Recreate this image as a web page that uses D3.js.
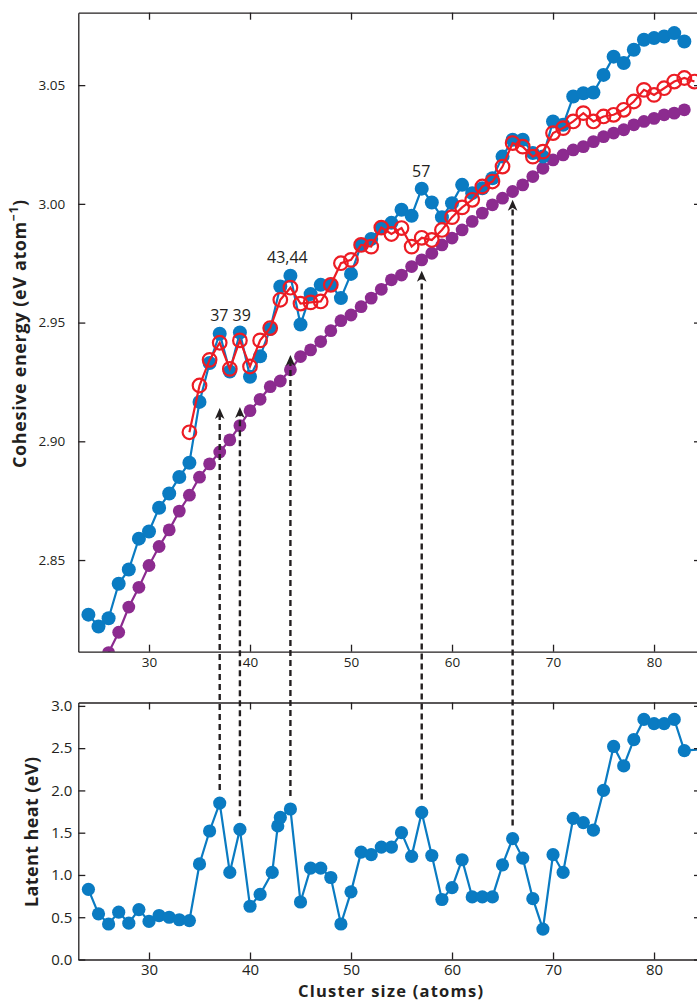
<!DOCTYPE html>
<html>
<head>
<meta charset="utf-8">
<script src="https://cdn.jsdelivr.net/npm/d3@7"></script>
<style>
  body { margin: 0; background: #fff; }
  svg { display: block; }
  .axis text { font-family: 'Open Sans', sans-serif; fill: #231f20; }
  .axis path, .axis line { stroke: #231f20; stroke-width: 1.3; }
  .title { font-family: 'Open Sans', sans-serif; font-weight: bold; fill: #231f20; }
</style>
</head>
<body>
<script>
// upper panel: cohesive energy (eV/atom) per cluster size
const blueSizes = d3.range(24, 84)
const blueEnergy = [
  2.827, 2.822, 2.8255, 2.840, 2.846, 2.859, 2.862, 2.872, 2.878, 2.885,
  2.891, 2.9166, 2.933, 2.9453, 2.9294, 2.9458, 2.9272, 2.9358, 2.9473, 2.9652,
  2.9697, 2.9492, 2.962, 2.9659, 2.966, 2.9603, 2.9705, 2.9827, 2.9852, 2.9899,
  2.992, 2.9975, 2.995, 3.0064, 3.0006, 2.9944, 3.0003, 3.008, 3.0045, 3.0066,
  3.0108, 3.0199, 3.027, 3.027, 3.0214, 3.0199, 3.0347, 3.0333, 3.0452, 3.0466,
  3.0469, 3.0543, 3.062, 3.0593, 3.0649, 3.0691, 3.0698, 3.0705, 3.0719, 3.0684
]

const redSizes = d3.range(34, 85)
const redEnergy = [
  2.9038, 2.9235, 2.9343, 2.9415, 2.9305, 2.9425, 2.9315, 2.9425, 2.9477, 2.9596,
  2.9647, 2.958, 2.9585, 2.9589, 2.9659, 2.975, 2.9764, 2.9827, 2.982, 2.990,
  2.9873, 2.9898, 2.982, 2.9857, 2.9848, 2.989, 2.9944, 2.9985, 3.0017, 3.0073,
  3.0094, 3.0157, 3.0256, 3.0241, 3.0199, 3.022, 3.0298, 3.0319, 3.0347, 3.0382,
  3.0347, 3.0368, 3.0375, 3.0396, 3.0431, 3.048, 3.0459, 3.0487, 3.0515, 3.053,
  3.0515
]

const purpleSizes = d3.range(26, 84)
const purpleEnergy = [
  2.811, 2.8196, 2.8302, 2.8385, 2.8477, 2.8557, 2.8627, 2.8706, 2.8773, 2.8849,
  2.8905, 2.8955, 2.9006, 2.9066, 2.9129, 2.9177, 2.923, 2.9254, 2.9301, 2.9357,
  2.9385, 2.942, 2.9466, 2.9508, 2.9532, 2.9567, 2.9603, 2.964, 2.968, 2.970,
  2.9736, 2.9764, 2.9792, 2.9827, 2.9856, 2.989, 2.9926, 2.9961, 2.9996, 3.0024,
  3.0052, 3.008, 3.0115, 3.015, 3.0185, 3.0206, 3.0227, 3.0241, 3.0262, 3.0283,
  3.0298, 3.0312, 3.0333, 3.0347, 3.036, 3.0375, 3.0382, 3.0396
]

// lower panel: latent heat (eV)
const heatSizes = [
  24, 25, 26, 27, 28, 29, 30, 31, 32, 33, 34, 35, 36, 37, 38, 39, 40, 41,
  42.2, 42.75, 43, 44, 45, 46, 47, 48, 49, 50, 51, 52, 53, 54, 55, 56, 57, 58,
  59, 60, 61, 62, 63, 64, 65, 66, 67, 68, 69, 70, 71, 72, 73, 74, 75, 76, 77,
  78, 79, 80, 81, 82, 83, 85
]
const heatValues = [
  0.83, 0.54, 0.42, 0.56, 0.43, 0.59, 0.45, 0.52, 0.50, 0.47, 0.46, 1.13, 1.52, 1.85, 1.03, 1.54, 0.63, 0.77,
  1.03, 1.58, 1.68, 1.78, 0.68, 1.08, 1.08, 0.97, 0.42, 0.80, 1.27, 1.24, 1.33, 1.33, 1.50, 1.22, 1.74, 1.23,
  0.71, 0.85, 1.18, 0.74, 0.74, 0.74, 1.12, 1.43, 1.20, 0.72, 0.36, 1.24, 1.03, 1.67, 1.62, 1.53, 2.00, 2.52, 2.29,
  2.60, 2.84, 2.79, 2.79, 2.84, 2.47, 2.49
]

// dashed arrows from latent heat peaks up to the energy curves
const peakSizes = [37, 39, 44, 57, 66]
const peakArrowTips = [2.914, 2.9145, 2.9364, 2.9718, 3.0017]

const labelTexts = ['37 39', '43,44', '57']
const labelSizes = [38.07, 43.7, 56.95]
const labelEnergy = [2.9508, 2.9753, 3.0111]

const xTicks = [30, 40, 50, 60, 70, 80]
const energyTicks = [2.85, 2.90, 2.95, 3.00, 3.05]
const heatTicks = [0, 0.5, 1, 1.5, 2, 2.5, 3]

const width = 697
const height = 1002
const blue = '#0a7bc2'
const purple = '#8c2b8f'
const red = '#ec1c24'

const svg = d3.select('body')
  .append('svg')
  .attr('width', width)
  .attr('height', height)

const left = 78.3
const right = 701
const x = d3.scaleLinear().domain([23, 84.65]).range([left, right])
const yTop = d3.scaleLinear().domain([2.8114, 3.0805]).range([651.7, 12.7])
const yHeat = d3.scaleLinear().domain([0, 3.04]).range([959.5, 702.5])

svg.append('clipPath')
  .attr('id', 'clipTop')
  .append('rect')
  .attr('x', left)
  .attr('y', 12.7)
  .attr('width', right - left)
  .attr('height', 639)

const topPanel = svg.append('g').attr('clip-path', 'url(#clipTop)')

const drawSeries = (g, sizes, values, y, color, r, open) => {
  const pts = sizes.map((s, i) => [s, values[i]])
  g.append('path')
    .datum(pts)
    .attr('fill', 'none')
    .attr('stroke', color)
    .attr('stroke-width', 2.2)
    .attr('d', d3.line().x(d => x(d[0])).y(d => y(d[1])))
  g.append('g')
    .selectAll('circle')
    .data(pts)
    .enter()
    .append('circle')
    .attr('cx', d => x(d[0]))
    .attr('cy', d => y(d[1]))
    .attr('r', r)
    .attr('fill', open ? 'none' : color)
    .attr('stroke', open ? color : 'none')
    .attr('stroke-width', open ? 2.2 : 0)
}

drawSeries(topPanel, purpleSizes, purpleEnergy, yTop, purple, 6.4, false)
drawSeries(topPanel, blueSizes, blueEnergy, yTop, blue, 7, false)
drawSeries(topPanel, redSizes, redEnergy, yTop, red, 6.8, true)

drawSeries(svg.append('g'), heatSizes, heatValues, yHeat, blue, 6.6, false)

// peak labels
svg.append('g')
  .selectAll('text')
  .data(labelTexts)
  .enter()
  .append('text')
  .attr('x', (d, i) => x(labelSizes[i]))
  .attr('y', (d, i) => yTop(labelEnergy[i]))
  .attr('text-anchor', 'middle')
  .style('font-family', "'Open Sans', sans-serif")
  .style('font-size', '16px')
  .style('fill', '#231f20')
  .text(d => d)

// axes: frame with inward ticks
const drawFrame = (y, yTicksVals, fmt, fontSize, padY, padX) => {
  const y0 = y.range()[0]
  const y1 = y.range()[1]
  svg.append('g')
    .attr('class', 'axis')
    .attr('transform', `translate(0,${y0})`)
    .call(d3.axisBottom(x).tickValues(xTicks).tickSize(-7).tickSizeOuter(0).tickPadding(padX))
    .selectAll('text').style('font-size', fontSize)
  svg.append('g')
    .attr('class', 'axis')
    .attr('transform', `translate(0,${y1})`)
    .call(d3.axisTop(x).tickValues(xTicks).tickSize(-7).tickSizeOuter(0).tickFormat(''))
  svg.append('g')
    .attr('class', 'axis')
    .attr('transform', `translate(${left},0)`)
    .call(d3.axisLeft(y).tickValues(yTicksVals).tickSize(-7).tickSizeOuter(0).tickPadding(padY).tickFormat(fmt))
    .selectAll('text').style('font-size', fontSize)
  svg.append('g')
    .attr('class', 'axis')
    .attr('transform', `translate(${right - 1},0)`)
    .call(d3.axisRight(y).tickValues(yTicksVals).tickSize(-6).tickSizeOuter(0).tickFormat(''))
}

drawFrame(yTop, energyTicks, d3.format('.2f'), '13.5px', 13, 6)
drawFrame(yHeat, heatTicks, d3.format('.1f'), '15px', 6, 4.5)

// dashed arrows
const arrows = svg.append('g')
peakSizes.forEach((s, i) => {
  const v = heatValues[heatSizes.indexOf(s)]
  const xp = x(s)
  const yTip = yTop(peakArrowTips[i])
  arrows.append('line')
    .attr('x1', xp)
    .attr('x2', xp)
    .attr('y1', yHeat(v) - 13)
    .attr('y2', yTip + 7)
    .attr('stroke', '#231f20')
    .attr('stroke-width', 2.4)
    .attr('stroke-dasharray', '6,4')
  arrows.append('path')
    .attr('d', `M${xp},${yTip} L${xp + 4.8},${yTip + 11} L${xp},${yTip + 8} L${xp - 4.8},${yTip + 11} Z`)
    .attr('fill', '#231f20')
})

// axis titles
const topTitle = svg.append('text')
  .attr('class', 'title')
  .attr('transform', 'translate(26,334) rotate(-90)')
  .attr('text-anchor', 'middle')
  .attr('textLength', 268)
  .attr('lengthAdjust', 'spacing')
  .style('font-size', '18px')
topTitle.append('tspan').text('Cohesive energy (eV atom')
topTitle.append('tspan').attr('baseline-shift', 'super').style('font-size', '12px').text('\u22121')
topTitle.append('tspan').attr('baseline-shift', '0').text(')')

svg.append('text')
  .attr('class', 'title')
  .attr('transform', 'translate(38,832) rotate(-90)')
  .attr('text-anchor', 'middle')
  .attr('textLength', 150)
  .attr('lengthAdjust', 'spacing')
  .style('font-size', '18px')
  .text('Latent heat (eV)')

svg.append('text')
  .attr('class', 'title')
  .attr('x', 390.5)
  .attr('y', 996.5)
  .attr('text-anchor', 'middle')
  .attr('textLength', 185)
  .attr('lengthAdjust', 'spacing')
  .style('font-size', '16.5px')
  .text('Cluster size (atoms)')
</script>
</body>
</html>
